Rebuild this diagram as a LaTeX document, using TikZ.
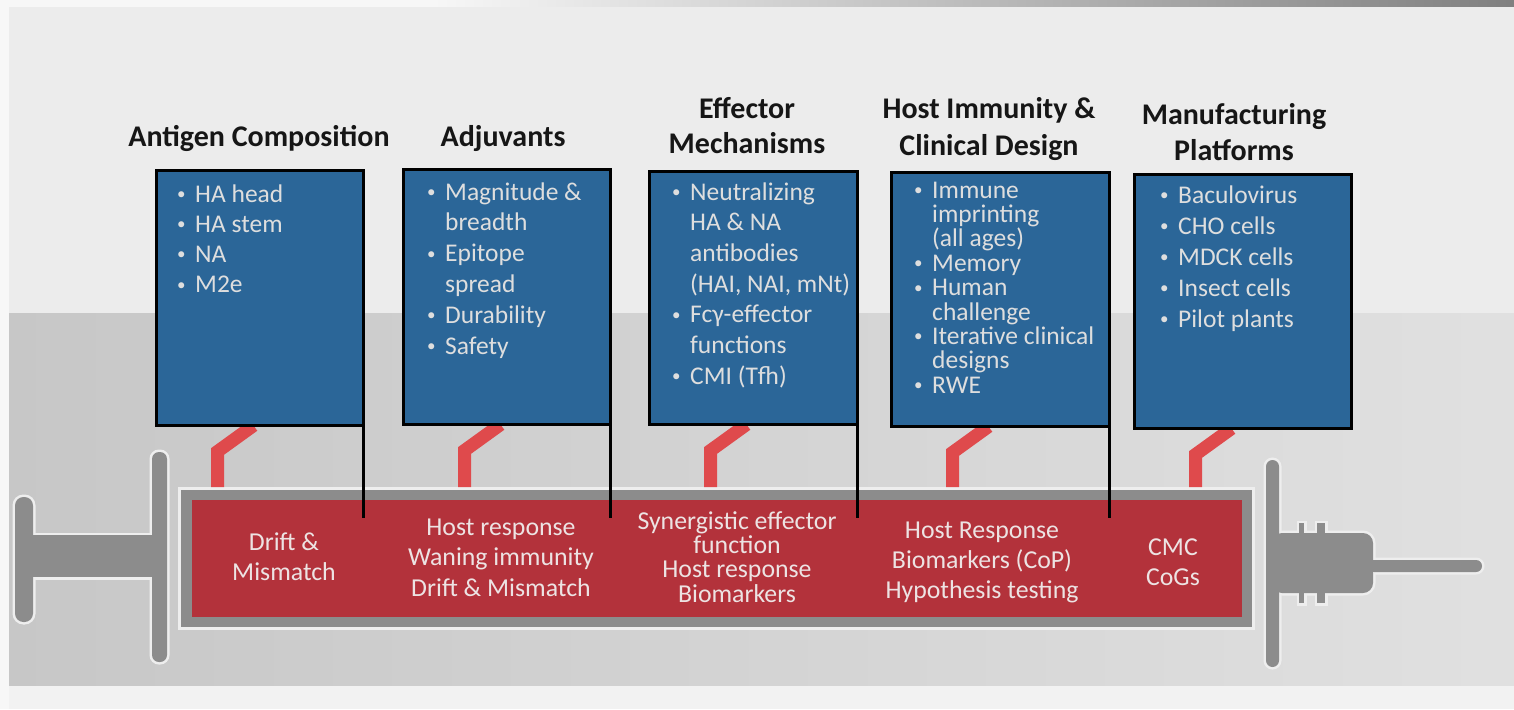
\documentclass[tikz,border=0pt]{standalone}
\usepackage{fontspec}
\setmainfont{Carlito}
\usetikzlibrary{calc}

\definecolor{boxblue}{HTML}{2B6698}
\definecolor{barrelred}{HTML}{B3323B}
\definecolor{linkred}{HTML}{DF4A4C}
\definecolor{steel}{HTML}{8C8C8C}
\definecolor{halo}{HTML}{EEEEEE}
\definecolor{paletext}{HTML}{DEDEDE}
\definecolor{redtext}{HTML}{EDE3E3}
\definecolor{titleink}{HTML}{161616}
\definecolor{paper}{HTML}{ECECEC}

% bullet lists and centred blocks with the first baseline at the anchor
\newcommand\blt{\makebox[18pt][l]{\raisebox{2.5pt}{\fontsize{17}{0}\selectfont\textbullet}}}
\newcommand\ind{\hspace*{18pt}}
\newcommand\listblock[2]{\parbox[t]{260pt}{\raggedright\fontsize{25.5}{#1}\selectfont #2}}
\newcommand\midblock[2]{\parbox[t]{300pt}{\centering\fontsize{25.8}{#1}\selectfont #2}}
\newcommand\headblock[2]{\parbox[t]{300pt}{\centering\bfseries\fontsize{30}{#1}\selectfont #2}}

\begin{document}
\begin{tikzpicture}[x=1pt,y=-1pt,
  panel/.style={draw=black, line width=3pt, fill=boxblue, anchor=north west,
    inner sep=0pt, minimum height=252},
  bullets/.style={anchor=base west, inner sep=0pt, text=paletext},
  heading/.style={anchor=base, inner sep=0pt, text=titleink},
  chambertext/.style={anchor=base, inner sep=0pt, text=redtext},
  link/.style={draw=linkred, line width=13pt},
  tick/.style={draw=black, line width=3.5pt},
  metal/.style={fill=steel},
  metalhalo/.style={draw=halo, line width=5pt},
]
\useasboundingbox (0,0) rectangle (1514,709);

% paper background
\fill[paper] (0,0) rectangle (1514,313);
\shade[left color=black!22, right color=black!12] (0,313) rectangle (1514,686);
\fill[black!5] (0,686) rectangle (1514,709);
\fill[black!3] (0,0) rectangle (9,709);
\fill[black!3] (0,0) rectangle (430,7);
\shade[left color=black!3, right color=black!50] (430,0) rectangle (1514,7);

% syringe: plunger, finger flange, hub and needle
\foreach \p in {metalhalo,metal}{
  \path[\p, rounded corners=8.5] (15,497) rectangle (33,622);
  \path[\p] (30,535) rectangle (158,577);
  \path[\p, rounded corners=7] (152,452) rectangle (167,662);
  \path[\p, rounded corners=6.5] (1266,460) rectangle (1279,667);
  \path[\p, rounded corners=10] (1272,533) rectangle (1373,593);
  \path[\p] (1299,523) rectangle (1304,603);
  \path[\p] (1317,523) rectangle (1325,603);
  \path[\p, rounded corners=6] (1368,560) rectangle (1482,572);
}

% barrel
\node[draw=halo, line width=2.5pt, fill=steel, anchor=north west, inner sep=0pt,
  minimum width=1074, minimum height=140] (casing) at (178,487) {};
\coordinate (chamberNW) at (192,500);

% blue panels
\node[panel, minimum width=204] (b1) at (156.5,170.5) {};
\node[panel, minimum width=204] (b2) at (403.5,169.5) {};
\node[panel, minimum width=205, minimum height=250] (b3) at (649.5,171.5) {};
\node[panel, minimum width=215, minimum height=251] (b4) at (891.5,172.5) {};
\node[panel, minimum width=214, minimum height=251] (b5) at (1134.5,174.5) {};

% red links from each panel down to the barrel
\foreach \b in {b1,b2,b3,b4,b5}{
  \coordinate (\b knee) at ($(\b.south west)+(61,26)$);
  \draw[link] ($(\b.south west)+(97,0)$) -- (\b knee) -- (\b knee |- casing.north);
}
% panels again on top of the link ends
\foreach \b in {b1,b2,b3,b4,b5}{
  \path[draw=black, line width=3pt, fill=boxblue] (\b.north west) rectangle (\b.south east);
}

% red chamber
\node[fill=barrelred, anchor=north west, inner sep=0pt,
  minimum width=1050, minimum height=117] (chamber) at (chamberNW) {};

% black leads from the panels' right edges into the chamber
\coordinate (leadend) at (0,518);
\foreach \b in {b1,b2,b3,b4}{
  \draw[tick] ($(\b.south east)+(0,-1.5)$) -- (\b.south east |- leadend);
}

% headings
\node[heading] (h1) at (259,146) {\headblock{35}{Antigen Composition}};
\node[heading] (h2) at (503,146) {\headblock{35}{Adjuvants}};
\node[heading] (h3) at (747,118) {\headblock{35}{Effector\\Mechanisms}};
\node[heading] (h4) at (989,118) {\headblock{37}{Host Immunity \&\\Clinical Design}};
\node[heading] (h5) at (1234,124) {\headblock{36}{Manufacturing\\Platforms}};

% panel contents
\node[bullets] (t1) at (177,202) {\listblock{30.2}{\blt HA head\\\blt HA stem\\\blt NA\\\blt M2e}};
\node[bullets] (t2) at (427,200) {\listblock{30.8}{\blt Magnitude \&\\\ind breadth\\\blt Epitope\\\ind spread\\\blt Durability\\\blt Safety}};
\node[bullets] (t3) at (672,200) {\listblock{30.7}{\blt Neutralizing\\\ind HA \& NA\\\ind antibodies\\\ind (HAI, NAI, mNt)\\\blt Fcγ-effector\\\ind functions\\\blt CMI (Tfh)}};
\node[bullets] (t4) at (914,198) {\listblock{24.4}{\blt Immune\\\ind imprinting\\\ind (all ages)\\\blt Memory\\\blt Human\\\ind challenge\\\blt Iterative clinical\\\ind designs\\\blt RWE}};
\node[bullets] (t5) at (1160,203) {\listblock{31}{\blt Baculovirus\\\blt CHO cells\\\blt MDCK cells\\\blt Insect cells\\\blt Pilot plants}};

% chamber labels
\node[chambertext] (r1) at (284,550) {\midblock{30}{Drift \&\\Mismatch}};
\node[chambertext] (r2) at (501,535) {\midblock{30.5}{Host response\\Waning immunity\\Drift \& Mismatch}};
\node[chambertext] (r3) at (737,529) {\midblock{24.4}{Synergistic effector\\function\\Host response\\Biomarkers}};
\node[chambertext] (r4) at (982,538) {\midblock{30}{Host Response\\Biomarkers (CoP)\\Hypothesis testing}};
\node[chambertext] (r5) at (1173,555) {\midblock{30}{CMC\\CoGs}};
\end{tikzpicture}
\end{document}
